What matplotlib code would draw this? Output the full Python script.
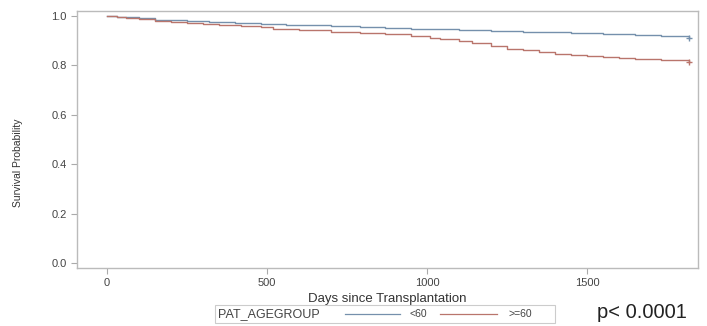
import matplotlib
matplotlib.use("Agg")
import matplotlib.pyplot as plt
from matplotlib.lines import Line2D
from matplotlib.patches import Rectangle

# Kaplan-Meier step estimates
days_lt60 = [0, 30, 60, 100, 150, 200, 250, 320, 400, 480, 560, 640, 700, 790, 870, 950, 1010, 1100, 1200, 1300, 1380, 1450, 1550, 1650, 1730, 1819]
surv_lt60 = [1.0, 0.997, 0.994, 0.99, 0.985, 0.982, 0.98, 0.976, 0.972, 0.968, 0.965, 0.962, 0.958, 0.954, 0.95, 0.948, 0.946, 0.943, 0.94, 0.937, 0.933, 0.93, 0.928, 0.922, 0.917, 0.912]
days_ge60 = [0, 30, 60, 100, 150, 200, 250, 300, 350, 420, 480, 520, 600, 700, 790, 870, 950, 1010, 1040, 1100, 1140, 1200, 1250, 1300, 1350, 1400, 1450, 1500, 1550, 1600, 1650, 1730, 1819]
surv_ge60 = [1.0, 0.996, 0.992, 0.987, 0.98, 0.975, 0.97, 0.966, 0.962, 0.958, 0.955, 0.948, 0.942, 0.935, 0.931, 0.928, 0.92, 0.912, 0.905, 0.897, 0.889, 0.88, 0.868, 0.862, 0.855, 0.848, 0.842, 0.837, 0.832, 0.829, 0.825, 0.82, 0.815]

group_labels = ["<60", ">=60"]
x_ticks = [0, 500, 1000, 1500]
y_ticks = [0.0, 0.2, 0.4, 0.6, 0.8, 1.0]

c_lt60 = "#7590ac"
c_ge60 = "#b9756c"
gray = "#444444"

fig = plt.figure(figsize=(7.07, 3.26), dpi=100)
ax = fig.add_axes([77/707, 58/326, (698-77)/707, (268-11)/326])

ax.step(days_lt60, surv_lt60, where="post", color=c_lt60, lw=1.0)
ax.step(days_ge60, surv_ge60, where="post", color=c_ge60, lw=1.0)
ax.plot([days_lt60[-1]], [surv_lt60[-1]], marker="+", color=c_lt60, ms=5, mew=1.0)
ax.plot([days_ge60[-1]], [surv_ge60[-1]], marker="+", color=c_ge60, ms=5, mew=1.0)

ax.set_xlim(-94, 1847)
ax.set_ylim(-0.02, 1.02)
ax.set_xticks(x_ticks)
ax.set_yticks(y_ticks)
ax.set_yticklabels([f"{v:.1f}" for v in y_ticks])
for s in ax.spines.values():
    s.set_color("#bbbbbb")
    s.set_linewidth(1.0)
ax.tick_params(colors="#aaaaaa", labelcolor=gray, labelsize=8, length=4, width=0.8)
for lab in ax.get_xticklabels() + ax.get_yticklabels():
    lab.set_family("Liberation Sans")

ax.set_xlabel("Days since Transplantation", fontsize=9.5, color="#333333",
              family="Liberation Sans", labelpad=3)
fig.text(18/707, 1 - 163/326, "Survival Probability", rotation=90, ha="center", va="center",
         fontsize=7.5, color="#333333", family=["Liberation Sans Narrow", "Liberation Sans"])

# legend box
fig.patches.append(Rectangle((215/707, 1 - 323/326), 340/707, 18/326, transform=fig.transFigure,
                             fill=False, edgecolor="#cccccc", lw=0.8))
ly = 1 - 314/326
fig.text(218/707, ly, "PAT_AGEGROUP", fontsize=9, color=gray, va="center", family="Liberation Sans")
fig.add_artist(Line2D([345/707, 400/707], [ly, ly], color=c_lt60, lw=0.9, transform=fig.transFigure))
fig.text(409/707, ly, group_labels[0], fontsize=7.5, color=gray, va="center", family="Liberation Sans")
fig.add_artist(Line2D([440/707, 497/707], [ly, ly], color=c_ge60, lw=0.9, transform=fig.transFigure))
fig.text(508/707, ly, group_labels[1], fontsize=7.5, color=gray, va="center", family="Liberation Sans")

fig.text(597/707, 1 - 313/326, "p< 0.0001", fontsize=14.5, color="#222222", va="center",
         family="Liberation Sans")

fig.savefig("out.png", dpi=100)
